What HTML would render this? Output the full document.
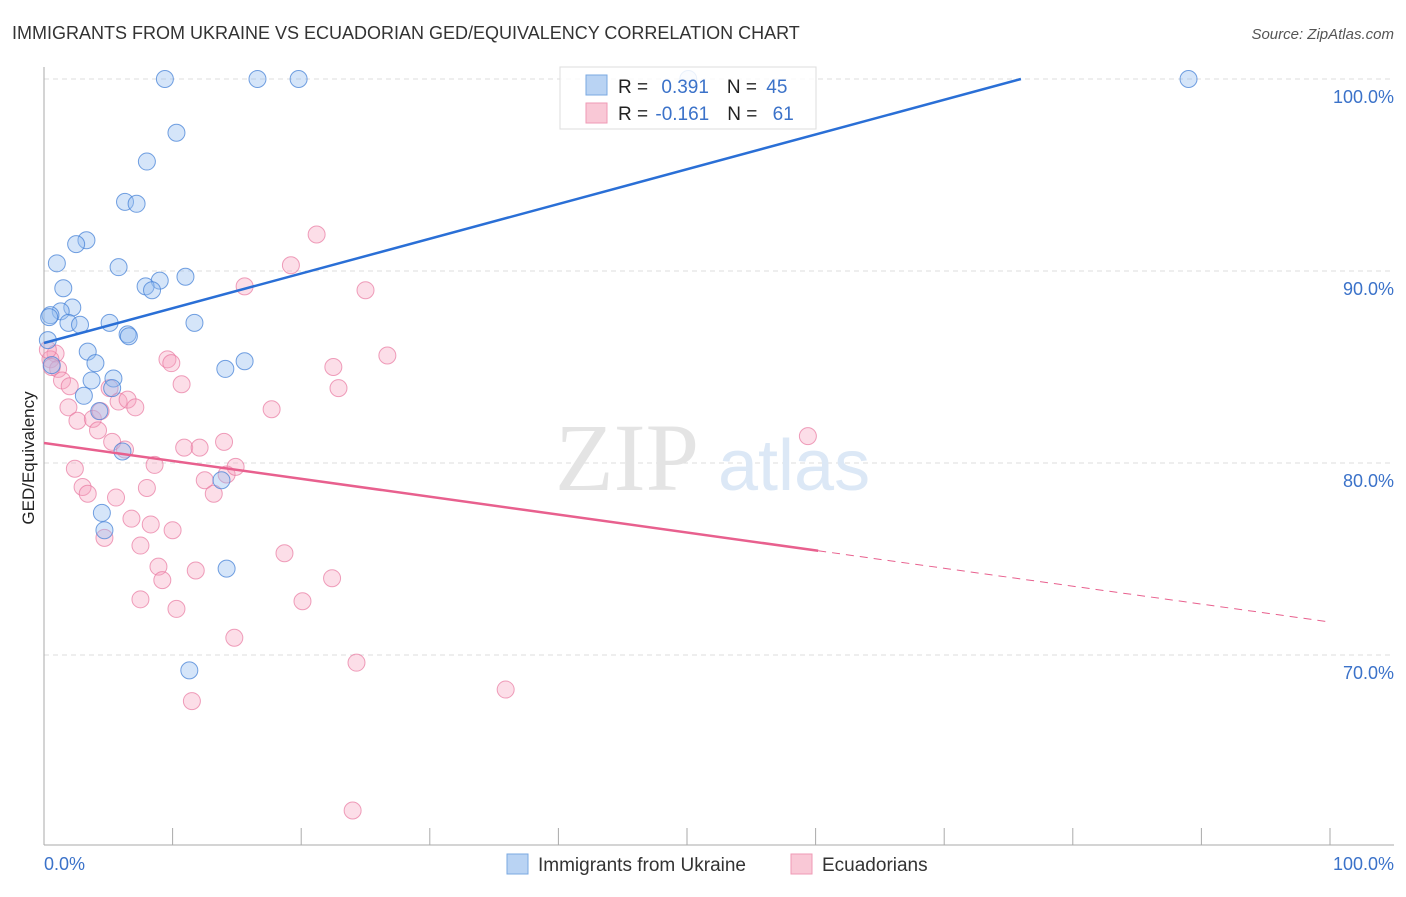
<!DOCTYPE html>
<html><head><meta charset="utf-8"><style>
body{margin:0;background:#fff;font-family:"Liberation Sans",sans-serif;}
svg text{font-family:"Liberation Sans",sans-serif;}
</style></head><body>
<svg id="chart" width="1406" height="892" xmlns="http://www.w3.org/2000/svg">
<text x="12" y="39" font-size="18" fill="#333">IMMIGRANTS FROM UKRAINE VS ECUADORIAN GED/EQUIVALENCY CORRELATION CHART</text>
<text x="1394" y="39" font-size="15" fill="#555" text-anchor="end" font-style="italic">Source: ZipAtlas.com</text>
<g id="grid"></g>
<text x="555" y="490" font-size="96" fill="#e4e4e4" font-family="Liberation Serif" style="font-family:'Liberation Serif',serif">ZIP</text>
<text x="718" y="490" font-size="72" fill="#dce8f6">atlas</text>
<g id="axes"></g>
<g id="pts"></g>
<g id="lines"></g>
<text transform="translate(34,458) rotate(-90)" font-size="17" fill="#222" text-anchor="middle">GED/Equivalency</text>
<text x="44" y="870" font-size="18" fill="#3b72c9">0.0%</text>
<text x="1394" y="870" font-size="18" fill="#3b72c9" text-anchor="end">100.0%</text>
<g>
<rect x="560" y="67" width="256" height="62" fill="#fff" fill-opacity="0.85" stroke="#ddd"/>
<rect x="586" y="75" width="21" height="20" fill="#b9d3f3" stroke="#7aa8e2"/>
<rect x="586" y="103" width="21" height="20" fill="#f9c8d6" stroke="#ef9ab5"/>
<text x="618" y="93" font-size="19" fill="#222">R = <tspan fill="#3b72c9" dx="8">0.391</tspan><tspan dx="18">N = </tspan><tspan fill="#3b72c9" dx="4">45</tspan></text>
<text x="618" y="120" font-size="19" fill="#222">R = <tspan fill="#3b72c9" dx="2">-0.161</tspan><tspan dx="18">N = </tspan><tspan fill="#3b72c9" dx="10">61</tspan></text>
</g>
<g>
<rect x="507" y="854" width="21" height="20" fill="#b9d3f3" stroke="#7aa8e2"/>
<text x="538" y="871" font-size="19" fill="#333">Immigrants from Ukraine</text>
<rect x="791" y="854" width="21" height="20" fill="#f9c8d6" stroke="#ef9ab5"/>
<text x="822" y="871" font-size="19" fill="#333">Ecuadorians</text>
</g>
</svg>
<script>
const yTicks=[100,90,80,70];
const yTickLabels=["100.0%","90.0%","80.0%","70.0%"];
const blueX=[9.4,16.6,19.8,50.1,89.0,10.3,8.0,6.3,7.2,3.3,2.5,1.0,5.8,11.0,9.0,7.9,8.4,1.5,2.2,1.3,1.9,0.5,2.8,5.1,11.7,6.5,0.3,3.4,4.0,15.6,14.1,0.6,3.7,5.4,5.3,3.1,4.3,6.1,13.8,4.5,4.7,14.2,11.3,0.4,6.6];
const blueY=[100,100,100,100,100,97.2,95.7,93.6,93.5,91.6,91.4,90.4,90.2,89.7,89.5,89.2,89.0,89.1,88.1,87.9,87.3,87.7,87.2,87.3,87.3,86.7,86.4,85.8,85.2,85.3,84.9,85.1,84.3,84.4,83.9,83.5,82.7,80.6,79.1,77.4,76.5,74.5,69.2,87.6,86.6];
const pinkX=[0.9,0.5,1.1,1.4,2.0,1.9,2.6,3.8,4.2,4.4,5.1,5.8,6.5,7.1,5.3,6.3,2.4,3.0,3.4,5.6,8.0,8.6,6.8,8.3,4.7,7.5,10.0,8.9,9.2,7.5,10.3,11.8,9.6,9.9,10.7,10.9,12.1,14.0,12.5,13.2,14.2,14.9,17.7,15.6,19.2,21.2,22.5,22.9,25.0,26.7,18.7,20.1,22.4,14.8,24.3,11.5,24.0,35.9,59.4,0.3,0.6];
const pinkY=[85.7,85.4,84.9,84.3,84.0,82.9,82.2,82.3,81.7,82.7,83.9,83.2,83.3,82.9,81.1,80.7,79.7,78.75,78.4,78.2,78.7,79.9,77.1,76.8,76.1,75.7,76.5,74.6,73.9,72.9,72.4,74.4,85.4,85.2,84.1,80.8,80.8,81.1,79.1,78.4,79.4,79.8,82.8,89.2,90.3,91.9,85.0,83.9,89.0,85.6,75.3,72.8,74.0,70.9,69.6,67.6,61.9,68.2,81.4,85.9,85.0];
const blueTrend=[86.25,0.181];
const pinkTrend=[81.04,-0.0932];
const pinkSolidEnd=60.2;
const NS='http://www.w3.org/2000/svg';
const sx=v=>44+v*12.86, sy=v=>79+(100-v)*19.2;
function mk(tag,attrs,parent){const e=document.createElementNS(NS,tag);for(const k in attrs)e.setAttribute(k,attrs[k]);parent.appendChild(e);return e;}
const grid=document.getElementById('grid'),axes=document.getElementById('axes'),pts=document.getElementById('pts'),lines=document.getElementById('lines');
yTicks.forEach((t,i)=>{
 const l=mk('line',{x1:44,x2:1394,y1:sy(t),y2:sy(t),stroke:'#ddd','stroke-dasharray':'5,4'},grid);
 
 
 const tx=mk('text',{x:1394,y:sy(t)+24,'font-size':18,fill:'#3b72c9','text-anchor':'end'},grid);
 tx.textContent=yTickLabels[i];
 
 
});
const ya=mk('line',{x1:44,x2:44,y1:67,y2:845,stroke:'#aaa'},axes);


const xa=mk('line',{x1:44,x2:1394,y1:845,y2:845,stroke:'#aaa'},axes);


for(let i=1;i<=10;i++){const tk=mk('line',{x1:sx(i*10),x2:sx(i*10),y1:828,y2:845,stroke:'#aaa'},axes);
 
 }
pinkX.forEach((x,i)=>{const c=mk('circle',{cx:sx(x),cy:sy(pinkY[i]),r:8.5,fill:'rgba(245,160,190,0.35)',stroke:'rgba(232,120,160,0.7)','stroke-width':1},pts);
 
 });
blueX.forEach((x,i)=>{const c=mk('circle',{cx:sx(x),cy:sy(blueY[i]),r:8.5,fill:'rgba(150,190,240,0.4)',stroke:'rgba(70,130,215,0.75)','stroke-width':1},pts);
 
 });
const bEnd=Math.min(100,(100-blueTrend[0])/blueTrend[1]);
const bl=mk('line',{x1:sx(0),y1:sy(blueTrend[0]),x2:sx(bEnd),y2:sy(blueTrend[0]+blueTrend[1]*bEnd),stroke:'#2a6fd6','stroke-width':2.5},lines);


const pv=x=>pinkTrend[0]+pinkTrend[1]*x;
const pl=mk('line',{x1:sx(0),y1:sy(pv(0)),x2:sx(pinkSolidEnd),y2:sy(pv(pinkSolidEnd)),stroke:'#e8608e','stroke-width':2.5},lines);


const pd=mk('line',{x1:sx(pinkSolidEnd),y1:sy(pv(pinkSolidEnd)),x2:sx(100),y2:sy(pv(100)),stroke:'#e8608e','stroke-width':1,'stroke-dasharray':'8,6'},lines);


</script>
</body></html>
